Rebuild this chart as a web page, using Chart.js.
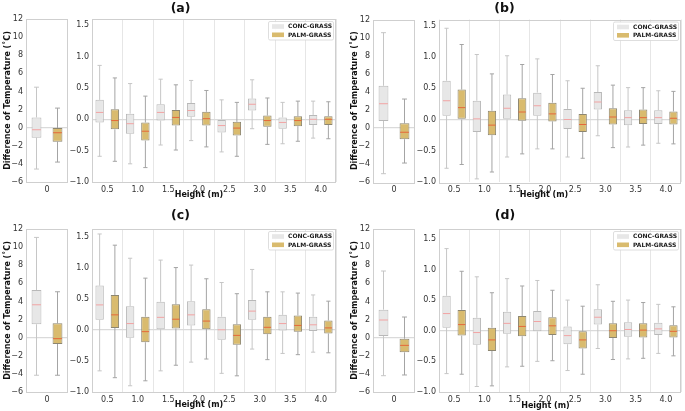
<!DOCTYPE html>
<html><head><meta charset="utf-8">
<script src="https://cdn.jsdelivr.net/npm/chart.js@4"></script>
<style>
body{margin:0;background:#fff;width:685px;height:411px;position:relative;overflow:hidden;font-family:"DejaVu Sans",sans-serif}
canvas{position:absolute}
.t{position:absolute;font-weight:bold;color:#111;white-space:nowrap;transform:translate(-50%,-50%);line-height:1}
</style></head><body>
<canvas id="a_g" width="70" height="205" style="left:0;top:0"></canvas>
<canvas id="a_h" width="270" height="205" style="left:70px;top:0"></canvas>
<canvas id="b_g" width="72" height="205" style="left:345px;top:0"></canvas>
<canvas id="b_h" width="268" height="205" style="left:417px;top:0"></canvas>
<canvas id="c_g" width="70" height="206" style="left:0;top:205px"></canvas>
<canvas id="c_h" width="270" height="206" style="left:70px;top:205px"></canvas>
<canvas id="d_g" width="72" height="206" style="left:345px;top:205px"></canvas>
<canvas id="d_h" width="268" height="206" style="left:417px;top:205px"></canvas>
<div class="t" style="left:180.6px;top:8px;font-size:12.5px">(a)</div>
<div class="t" style="left:504.5px;top:8px;font-size:12.5px">(b)</div>
<div class="t" style="left:180.5px;top:215px;font-size:12.5px">(c)</div>
<div class="t" style="left:505px;top:215px;font-size:12.5px">(d)</div>
<div class="t" style="left:199px;top:195px;font-size:8px">Height (m)</div>
<div class="t" style="left:544px;top:195px;font-size:8px">Height (m)</div>
<div class="t" style="left:199px;top:405px;font-size:8px">Height (m)</div>
<div class="t" style="left:545.5px;top:405.5px;font-size:8px">Height (m)</div>
<script>
// Categories: first one (0 m) is drawn in the narrow left panel, the rest in the wide panel
const heights = ['0','0.5','1.0','1.5','2.0','2.5','3.0','3.5','4.0'];
const seriesNames = ['CONC-GRASS','PALM-GRASS'];
const groundTicks = [-6,-4,-2,0,2,4,6,8,10,12];
const heightTicks = [-1.0,-0.5,0.0,0.5,1.0,1.5];
const yTitle = 'Difference of Temperature (˚C)';
const xTitle = 'Height (m)';

// Each entry: [min, q1, median, q3, max]
const concA = [[-4.57,-1.11,-0.23,1.13,4.47],[-0.59,-0.05,0.11,0.31,0.86],[-0.71,-0.23,-0.07,0.09,0.57],[-0.41,-0.02,0.11,0.24,0.64],[-0.34,0.04,0.14,0.26,0.62],[-0.52,-0.21,-0.10,0.0,0.31],[-0.15,0.14,0.24,0.33,0.63],[-0.39,-0.15,-0.05,0.03,0.27],[-0.30,-0.09,0.0,0.07,0.29]];
const palmA = [[-3.8,-1.55,-0.56,-0.05,2.16],[-0.67,-0.16,-0.02,0.16,0.66],[-0.77,-0.34,-0.19,-0.05,0.37],[-0.49,-0.10,0.03,0.15,0.55],[-0.44,-0.10,0.01,0.12,0.46],[-0.59,-0.26,-0.14,-0.04,0.27],[-0.40,-0.12,-0.02,0.06,0.34],[-0.35,-0.11,-0.02,0.05,0.29],[-0.31,-0.09,0.0,0.05,0.28]];
const concB = [[-5.08,0.76,2.67,4.66,10.54],[-0.78,0.06,0.30,0.62,1.46],[-0.95,-0.20,0.01,0.30,1.04],[-0.60,0.0,0.18,0.40,1.02],[-0.47,0.06,0.22,0.43,0.97],[-0.60,-0.15,0.0,0.17,0.62],[-0.26,0.16,0.28,0.44,0.86],[-0.44,-0.09,0.03,0.15,0.51],[-0.38,-0.07,0.03,0.15,0.46]];
const palmB = [[-3.9,-1.26,-0.49,0.50,3.19],[-0.72,0.0,0.19,0.48,1.20],[-0.84,-0.25,-0.09,0.14,0.73],[-0.55,-0.02,0.12,0.34,0.88],[-0.47,-0.03,0.09,0.27,0.72],[-0.62,-0.20,-0.08,0.09,0.50],[-0.45,-0.08,0.04,0.18,0.55],[-0.41,-0.07,0.03,0.16,0.51],[-0.39,-0.08,0.02,0.13,0.45]];
const concC = [[-4.15,1.48,3.63,5.26,11.07],[-0.66,0.16,0.40,0.71,1.54],[-0.90,-0.13,0.10,0.38,1.15],[-0.66,0.01,0.20,0.45,1.12],[-0.52,0.07,0.24,0.46,1.04],[-0.70,-0.16,0.0,0.21,0.76],[-0.31,0.16,0.30,0.48,0.97],[-0.38,-0.01,0.10,0.24,0.61],[-0.36,-0.02,0.08,0.21,0.56]];
const palmC = [[-4.15,-0.70,-0.11,1.59,5.07],[-0.77,0.03,0.24,0.56,1.36],[-0.82,-0.20,-0.03,0.21,0.83],[-0.57,0.02,0.17,0.41,1.00],[-0.47,0.01,0.14,0.33,0.82],[-0.74,-0.24,-0.09,0.09,0.58],[-0.48,-0.07,0.04,0.21,0.61],[-0.40,-0.03,0.07,0.23,0.59],[-0.37,-0.06,0.03,0.15,0.46]];
const concD = [[-4.2,0.18,1.95,3.09,7.36],[-0.70,0.05,0.28,0.57,1.34],[-0.91,-0.23,-0.03,0.21,0.88],[-0.59,-0.05,0.12,0.31,0.85],[-0.50,-0.01,0.15,0.32,0.82],[-0.65,-0.22,-0.08,0.07,0.50],[-0.29,0.10,0.22,0.35,0.75],[-0.46,-0.10,0.02,0.14,0.50],[-0.37,-0.07,0.03,0.13,0.43]];
const palmD = [[-4.12,-1.62,-0.85,-0.11,2.28],[-0.71,-0.08,0.10,0.34,0.97],[-0.90,-0.33,-0.15,0.05,0.62],[-0.58,-0.09,0.07,0.24,0.73],[-0.49,-0.07,0.08,0.22,0.66],[-0.71,-0.29,-0.15,-0.01,0.40],[-0.47,-0.12,0.0,0.12,0.48],[-0.45,-0.11,0.01,0.12,0.46],[-0.41,-0.11,-0.01,0.09,0.39]];

const STY = [
  {fill:'#e7e7e7', border:'#b8b8b8', whisker:'#c6c6c6', median:'#f2a3a3'},
  {fill:'#d9bb6e', border:'#8d8670', whisker:'#a4a4a4', median:'#e5683a'}
];
const FONT = '"DejaVu Sans", sans-serif';
const TICK_COLOR = '#333';

const boxPlugin = {
  id:'boxWhisker',
  beforeDatasetsDraw(chart){
    const ctx = chart.ctx, y = chart.scales.y;
    chart.data.datasets.forEach((ds, di) => {
      const meta = chart.getDatasetMeta(di);
      meta.data.forEach((el, i) => {
        const s = ds.stats[i];
        const w = el.width, cap = w/2;
        const yMin = y.getPixelForValue(s[0]), yQ1 = y.getPixelForValue(s[1]);
        const yQ3 = y.getPixelForValue(s[3]), yMax = y.getPixelForValue(s[4]);
        ctx.save();
        ctx.strokeStyle = STY[di].whisker; ctx.lineWidth = 1;
        ctx.beginPath();
        ctx.moveTo(el.x, yQ3); ctx.lineTo(el.x, yMax);
        ctx.moveTo(el.x, yQ1); ctx.lineTo(el.x, yMin);
        ctx.moveTo(el.x - cap/2, yMax); ctx.lineTo(el.x + cap/2, yMax);
        ctx.moveTo(el.x - cap/2, yMin); ctx.lineTo(el.x + cap/2, yMin);
        ctx.stroke();
        ctx.restore();
      });
    });
  },
  afterDatasetsDraw(chart){
    const ctx = chart.ctx, y = chart.scales.y, a = chart.chartArea;
    chart.data.datasets.forEach((ds, di) => {
      const meta = chart.getDatasetMeta(di);
      meta.data.forEach((el, i) => {
        const s = ds.stats[i];
        const ym = y.getPixelForValue(s[2]);
        ctx.save();
        ctx.strokeStyle = STY[di].median; ctx.lineWidth = 1;
        ctx.beginPath(); ctx.moveTo(el.x - el.width/2 + 0.5, ym); ctx.lineTo(el.x + el.width/2 - 0.5, ym); ctx.stroke();
        ctx.restore();
      });
    });
    ctx.save();
    ctx.strokeStyle = '#cfcfcf'; ctx.lineWidth = 1;
    ctx.strokeRect(Math.round(a.left)+0.5, Math.round(a.top)+0.5, Math.round(a.right-a.left)-1, Math.round(a.bottom-a.top));
    ctx.restore();
  }
};

const legendPlugin = {
  id:'boxLegend',
  afterDraw(chart){
    if (!chart.options.plugins.boxLegend || !chart.options.plugins.boxLegend.show) return;
    const ctx = chart.ctx, a = chart.chartArea;
    const w = 65, h = 18.5, x = a.right - 2.5 - w, y = a.top + 2.5;
    ctx.save();
    ctx.fillStyle = 'rgba(255,255,255,0.9)';
    ctx.strokeStyle = '#d6d6d6'; ctx.lineWidth = 0.8;
    ctx.beginPath(); ctx.roundRect(x, y, w, h, 1.5); ctx.fill(); ctx.stroke();
    chart.data.datasets.forEach((ds, di) => {
      const ry = y + 5 + di*8.3;
      ctx.fillStyle = STY[di].fill;
      ctx.fillRect(x + 3.5, ry - 2.3, 12, 4.6);
      ctx.fillStyle = '#1a1a1a';
      ctx.font = 'bold 6px ' + FONT;
      ctx.textBaseline = 'middle'; ctx.textAlign = 'left';
      ctx.fillText(ds.label, x + 19.5, ry + 0.3);
    });
    ctx.restore();
  }
};

function fmtH(v){ return (v < 0 ? '\u2212' : '') + Math.abs(v).toFixed(1); }
function fmtG(v){ return (v < 0 ? '\u2212' : '') + Math.abs(v); }

function makeChart(id, cats, conc, palm, opt){
  const datasets = [conc, palm].map((arr, di) => ({
    label: seriesNames[di],
    data: arr.map(s => [s[1], s[3]]),
    stats: arr,
    backgroundColor: STY[di].fill,
    borderColor: STY[di].border,
    borderWidth: 1,
    borderSkipped: false,
    barPercentage: opt.barPct,
    categoryPercentage: opt.catPct
  }));
  return new Chart(document.getElementById(id), {
    type:'bar',
    data:{labels:cats, datasets},
    plugins:[boxPlugin, legendPlugin],
    options:{
      responsive:false, animation:false, devicePixelRatio:1,
      layout:{padding:{top:opt.top, right:opt.right, left:0, bottom:0}},
      plugins:{legend:{display:false}, tooltip:{enabled:false}, boxLegend:{show:opt.legend}},
      scales:{
        x:{
          grid:{display:opt.xgrid, color:'#e6e6e6', lineWidth:1, drawTicks:false, offset:true},
          border:{display:false},
          ticks:{color:TICK_COLOR, font:{family:FONT, size:8}, padding:3, maxRotation:0, autoSkip:false},
          afterFit(s){ s.height = opt.xh; }
        },
        y:{
          min:opt.min, max:opt.max,
          afterBuildTicks(s){ s.ticks = opt.ticks.map(v => ({value:v})); },
          grid:{color:(c)=> (c.tick && Math.abs(c.tick.value) < 1e-9) ? '#dadada' : 'rgba(0,0,0,0)', lineWidth:1.3, drawTicks:false},
          border:{display:false},
          ticks:{color:TICK_COLOR, font:{family:FONT, size:8}, padding:3, callback:opt.fmt},
          title:{display:!!opt.ytitle, text:yTitle, color:'#111', font:{family:FONT, size:8, weight:'bold'}, padding:{top:opt.tpad, bottom:0}},
          afterFit(s){ s.width = opt.yw; }
        }
      }
    }
  });
}

const panels = [
  {g:'a_g', h:'a_h', conc:concA, palm:palmA, top:19, xh:23, gw:26, gr:2, max:1.6},
  {g:'b_g', h:'b_h', conc:concB, palm:palmB, top:19.5, xh:23, gw:28, gr:2, max:1.6},
  {g:'c_g', h:'c_h', conc:concC, palm:palmC, top:24, xh:19, gw:26, gr:2, max:1.62},
  {g:'d_g', h:'d_h', conc:concD, palm:palmD, top:24, xh:19, gw:28, gr:2, max:1.66}
];
panels.forEach(p => {
  makeChart(p.g, heights.slice(0,1), p.conc.slice(0,1), p.palm.slice(0,1),
    {top:p.top, right:p.gr, xh:p.xh, yw:p.gw, min:-6, max:12, ticks:groundTicks, fmt:fmtG,
     ytitle:true, tpad:p.gw-23, barPct:0.47, catPct:1.0, xgrid:false, legend:false});
  makeChart(p.h, heights.slice(1), p.conc.slice(1), p.palm.slice(1),
    {top:p.top, right:4, xh:p.xh, yw:22, min:-1, max:p.max, ticks:heightTicks, fmt:fmtH,
     ytitle:false, barPct:0.55, catPct:1.0, xgrid:true, legend:true});
});
</script>
</body></html>
